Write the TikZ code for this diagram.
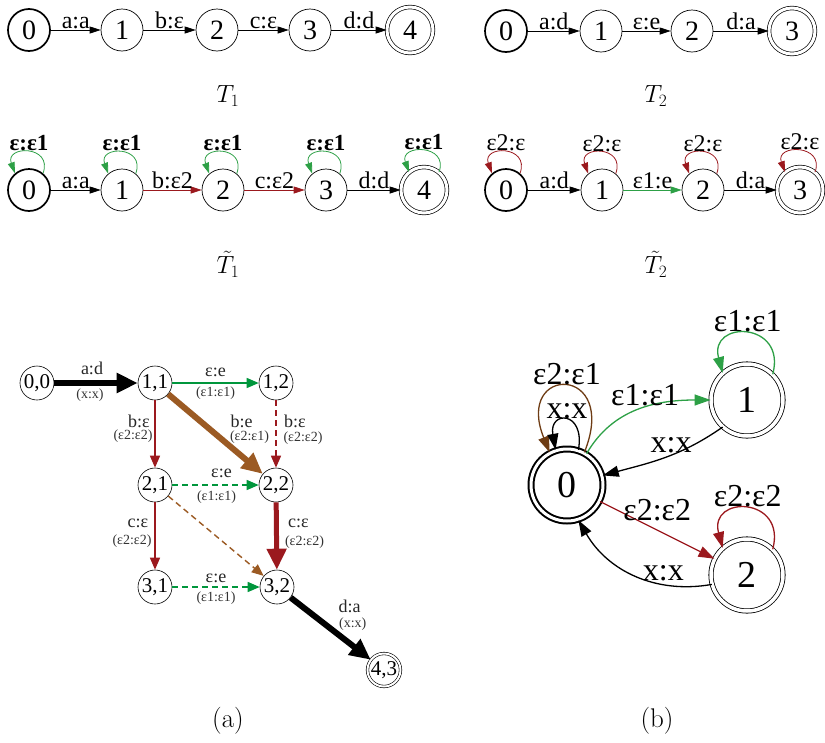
\documentclass[tikz,border=0pt]{standalone}
\usepackage{fontspec}
\usetikzlibrary{arrows.meta}
\newfontfamily\gv{Liberation Serif}
\newcommand{\fs}[1]{\fontsize{#1}{#1}\selectfont}
\definecolor{grn}{RGB}{45,160,70}
\definecolor{agrn}{RGB}{0,150,60}
\definecolor{drd}{RGB}{155,25,30}
\definecolor{brn}{RGB}{155,90,35}
\definecolor{dbrn}{RGB}{110,60,20}

\begin{document}
\begin{tikzpicture}[x=1pt, y=-1pt, >={Triangle[length=11pt,width=7pt]},
	st/.style={circle, draw, line width=0.7pt, inner sep=0pt, minimum size=42pt, font=\gv\fs{28}},
	ini/.style={line width=1.7pt},
	fin/.style={double, double distance=3pt, minimum size=46pt},
	lb/.style={font=\gv\fs{24}, inner sep=0.5pt},
	bl/.style={font=\gv\bfseries\fs{23}, text=black, inner sep=1pt},
	sa/.style={circle, draw, line width=0.6pt, inner sep=0pt, minimum size=34pt, font=\gv\fs{21}},
	la/.style={font=\gv\fs{18}, text=black!85, inner sep=0pt},
	ls/.style={font=\gv\fs{14}, text=black!80, inner sep=0pt},
	ta/.style={line width=1.4pt, -{Triangle[length=12pt,width=10pt]}},
	tb/.style={line width=6pt, -{Triangle[length=21pt,width=19pt]}},
	dsh/.style={dash pattern=on 6pt off 4pt},
	sb/.style={circle, draw, line width=0.8pt, double, double distance=3.5pt, inner sep=0pt, minimum size=72pt, font=\gv\fs{38}},
	eb/.style={line width=1.3pt, -{Triangle[length=16pt,width=11pt]}},
	lbb/.style={font=\gv\fs{32}, inner sep=1pt},
	capt/.style={font=\fs{27}}]
	\useasboundingbox (0,0) rectangle (825,742);

	\node[st,ini] (p0) at (29,30) {0};
	\foreach \i/\x in {1/122,2/217,3/310}
	{
		\node[st] (p\i) at (\x,30) {\i};
	}
	\node[st,fin] (p4) at (410,30) {4};
	\foreach \a/\b/\t in {0/1/a:a,1/2/b:ε,2/3/c:ε,3/4/d:d}
	{
		\draw[->,line width=0.8pt] (p\a) -- node[lb,above]{\t} (p\b);
	}
	\node[capt] at (228,96) {$T_1$};

	\node[st,ini] (r0) at (506,31) {0};
	\foreach \i/\x in {1/601,2/692}
	{
		\node[st] (r\i) at (\x,31) {\i};
	}
	\node[st,fin] (r3) at (792,31) {3};
	\foreach \a/\b/\t in {0/1/a:d,1/2/ε:e,2/3/d:a}
	{
		\draw[->,line width=0.8pt] (r\a) -- node[lb,above]{\t} (r\b);
	}
	\node[capt] at (656,96) {$T_2$};

	\node[st,ini] (q0) at (29,190) {0};
	\foreach \i/\x in {1/122,2/223,3/326}
	{
		\node[st] (q\i) at (\x,190) {\i};
	}
	\node[st,fin] (q4) at (424,190) {4};
	\foreach \i in {0,...,4}
	{
		\draw[->,grn,line width=0.8pt] (q\i.50) .. controls +(-70:30) and +(-110:30) .. node[bl,above]{ε:ε1} (q\i.130);
	}
	\foreach \a/\b/\t/\c in {0/1/a:a/black,1/2/b:ε2/drd,2/3/c:ε2/drd,3/4/d:d/black}
	{
		\draw[->,\c,line width=0.8pt] (q\a) -- node[lb,above,text=black]{\t} (q\b);
	}
	\node[capt] at (228,264) {$\tilde{T}_1$};

	\node[st,ini] (s0) at (506,190) {0};
	\foreach \i/\x in {1/602,2/703}
	{
		\node[st] (s\i) at (\x,190) {\i};
	}
	\node[st,fin] (s3) at (800,190) {3};
	\foreach \i in {0,...,3}
	{
		\draw[->,drd,line width=0.8pt] (s\i.50) .. controls +(-70:30) and +(-110:30) .. node[lb,above,text=black]{ε2:ε} (s\i.130);
	}
	\foreach \a/\b/\t/\c in {0/1/a:d/black,1/2/ε1:e/grn,2/3/d:a/black}
	{
		\draw[->,\c,line width=0.8pt] (s\a) -- node[lb,above,text=black]{\t} (s\b);
	}
	\node[capt] at (656,264) {$\tilde{T}_2$};

	\node[sa] (c00) at (37,383) {0,0};
	\node[sa] (c11) at (155,383) {1,1};
	\node[sa] (c12) at (276,383) {1,2};
	\node[sa] (c21) at (155,485) {2,1};
	\node[sa] (c22) at (276,485) {2,2};
	\node[sa] (c31) at (155,587) {3,1};
	\node[sa] (c32) at (277,587) {3,2};
	\node[sa,double,double distance=2pt,minimum size=33pt] (c43) at (384,670) {4,3};

	\draw[tb] (c00) -- node[la,xshift=-4pt,yshift=15pt]{a:d} node[ls,xshift=-6pt,yshift=-12pt]{(x:x)} (c11);
	\draw[ta,agrn] (c11) -- node[la,yshift=11pt]{ε:e} node[ls,yshift=-10pt]{(ε1:ε1)} (c12);
	\draw[ta,drd] (c11) -- node[la,xshift=-16pt,yshift=13pt]{b:ε} node[ls,xshift=-22pt,yshift=-2pt]{(ε2:ε2)} (c21);
	\draw[tb,brn] (c11) -- node[la,xshift=26pt,yshift=13pt]{b:e} node[ls,xshift=34pt,yshift=-3pt]{(ε2:ε1)} (c22);
	\draw[ta,drd,dsh] (c12) -- node[la,xshift=19pt,yshift=13pt]{b:ε} node[ls,xshift=27pt,yshift=-4pt]{(ε2:ε2)} (c22);
	\draw[ta,agrn,dsh] (c21) -- node[la,xshift=6pt,yshift=12pt]{ε:e} node[ls,xshift=1pt,yshift=-12pt]{(ε1:ε1)} (c22);
	\draw[ta,brn,dsh] (c21) -- (c32);
	\draw[ta,drd] (c21) -- node[la,xshift=-17pt,yshift=13pt]{c:ε} node[ls,xshift=-23pt,yshift=-5pt]{(ε2:ε2)} (c31);
	\draw[tb,drd,line width=5pt] (c22) -- node[la,xshift=22pt,yshift=13pt]{c:ε} node[ls,xshift=28pt,yshift=-6pt]{(ε2:ε2)} (c32);
	\draw[ta,agrn,dsh] (c31) -- node[la,yshift=9pt]{ε:e} node[ls,yshift=-11pt]{(ε1:ε1)} (c32);
	\draw[tb] (c32) -- node[la,xshift=19pt,yshift=22pt]{d:a} node[ls,xshift=22pt,yshift=5pt]{(x:x)} (c43);
	\node[capt] at (228,721) {(a)};

	\node[sb,line width=2pt,double distance=3pt] (b0) at (567,485) {0};
	\node[sb] (b1) at (747,400) {1};
	\node[sb] (b2) at (747,575) {2};
	\draw[eb,dbrn] (b0.62) .. controls +(-68:95) and +(-112:95) .. node[lbb,above,text=black]{ε2:ε1} (b0.118);
	\draw[eb] (b0.72) .. controls +(-80:40) and +(-100:40) .. node[lbb,above]{x:x} (b0.108);
	\draw[eb,grn] (b0.58) to[out=60,in=180] node[lbb,pos=0.55,above,text=black]{ε1:ε1} (b1.west);
	\draw[eb] (b1.228) to[out=215,in=15] node[lbb,above,pos=0.45]{x:x} (b0.15);
	\draw[eb,drd] (b0) -- node[lbb,above=8pt,text=black]{ε2:ε2} (b2);
	\draw[eb] (b2.195) to[out=190,in=-60] node[lbb,above=2pt,pos=0.3]{x:x} (b0.-72);
	\draw[eb,grn] (b1.45) .. controls +(-75:55) and +(-105:55) .. node[lbb,above,text=black]{ε1:ε1} (b1.132);
	\draw[eb,drd] (b2.45) .. controls +(-75:55) and +(-105:55) .. node[lbb,above,text=black]{ε2:ε2} (b2.132);
	\node[capt] at (657,721) {(b)};
\end{tikzpicture}
\end{document}
